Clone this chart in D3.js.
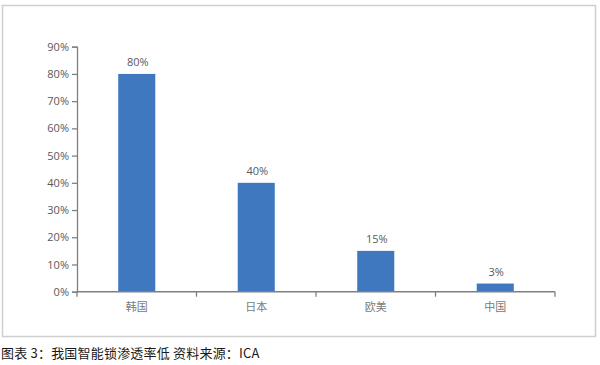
<!DOCTYPE html>
<html>
<head>
<meta charset="utf-8">
<script src="https://cdn.jsdelivr.net/npm/d3@7"></script>
<style>
  html, body { margin: 0; padding: 0; background: #fff; }
  svg { display: block; }
</style>
</head>
<body>
<div id="chart"></div>
<script>
// Smart-lock penetration rate by region
const categories = ["韩国", "日本", "欧美", "中国"];
const values = [0.80, 0.40, 0.15, 0.03];
const yTicks = [0, 0.1, 0.2, 0.3, 0.4, 0.5, 0.6, 0.7, 0.8, 0.9];
const caption = "图表 3：我国智能锁渗透率低 资料来源：ICA";

const W = 600, H = 365;
const svg = d3.select("#chart").append("svg")
  .attr("width", W).attr("height", H);

const numFont = "'Open Sans', 'Noto Sans CJK SC', sans-serif";
const cjkFont = "'Noto Sans CJK SC', sans-serif";

// frame around the plot area
svg.append("rect")
  .attr("x", 2.5).attr("y", 5.5)
  .attr("width", 593).attr("height", 331)
  .attr("fill", "none")
  .attr("stroke", "#cfcfcf")
  .attr("stroke-width", 1.5);

const x = d3.scaleBand()
  .domain(categories)
  .range([77, 555])
  .paddingInner(0.69)
  .paddingOuter(0.345);

const y = d3.scaleLinear()
  .domain([0, 0.9])
  .range([291.7, 46.7]);

const fmt = d3.format(".0%");

// y axis
const yAxis = svg.append("g")
  .attr("transform", "translate(77,0)")
  .call(d3.axisLeft(y).tickValues(yTicks).tickFormat(fmt).tickSize(5).tickPadding(3));
yAxis.select(".domain").attr("stroke", "#808080").attr("stroke-width", 1.3);
yAxis.selectAll(".tick line").attr("stroke", "#808080").attr("stroke-width", 1.3);
yAxis.selectAll(".tick text")
  .attr("fill", "#595959")
  .style("font-family", numFont)
  .style("font-size", "11px");

// bars
svg.append("g").selectAll("rect")
  .data(values)
  .join("rect")
  .attr("x", (d, i) => x(categories[i]))
  .attr("y", d => y(d))
  .attr("width", x.bandwidth())
  .attr("height", d => y(0) - y(d))
  .attr("fill", "#3f78be");

// value labels
svg.append("g").selectAll("text")
  .data(values)
  .join("text")
  .attr("x", (d, i) => x(categories[i]) + x.bandwidth() / 2 + 1)
  .attr("y", d => y(d) - 8)
  .attr("text-anchor", "middle")
  .attr("fill", "#595959")
  .style("font-family", numFont)
  .style("font-size", "11px")
  .text(d => fmt(d));

// x axis with ticks between categories
const edges = [77].concat(categories.map((c, i) => 77 + (i + 1) * (555 - 77) / categories.length));
const xAxis = svg.append("g");
xAxis.append("line")
  .attr("x1", 77).attr("x2", 555)
  .attr("y1", y(0)).attr("y2", y(0))
  .attr("stroke", "#808080").attr("stroke-width", 1.6);
xAxis.selectAll("line.tick")
  .data(edges)
  .join("line")
  .attr("class", "tick")
  .attr("x1", d => d).attr("x2", d => d)
  .attr("y1", y(0)).attr("y2", y(0) + 5)
  .attr("stroke", "#808080").attr("stroke-width", 1.3);
xAxis.selectAll("text")
  .data(categories)
  .join("text")
  .attr("x", d => x(d) + x.bandwidth() / 2)
  .attr("y", 311)
  .attr("text-anchor", "middle")
  .attr("fill", "#7a7a7a")
  .style("font-family", cjkFont)
  .style("font-size", "11px")
  .text(d => d);

// caption
svg.append("text")
  .attr("x", 1)
  .attr("y", 358)
  .attr("fill", "#1a1a1a")
  .style("font-family", cjkFont)
  .style("font-size", "13px")
  .style("letter-spacing", "0.2px")
  .text(caption);
</script>
</body>
</html>
